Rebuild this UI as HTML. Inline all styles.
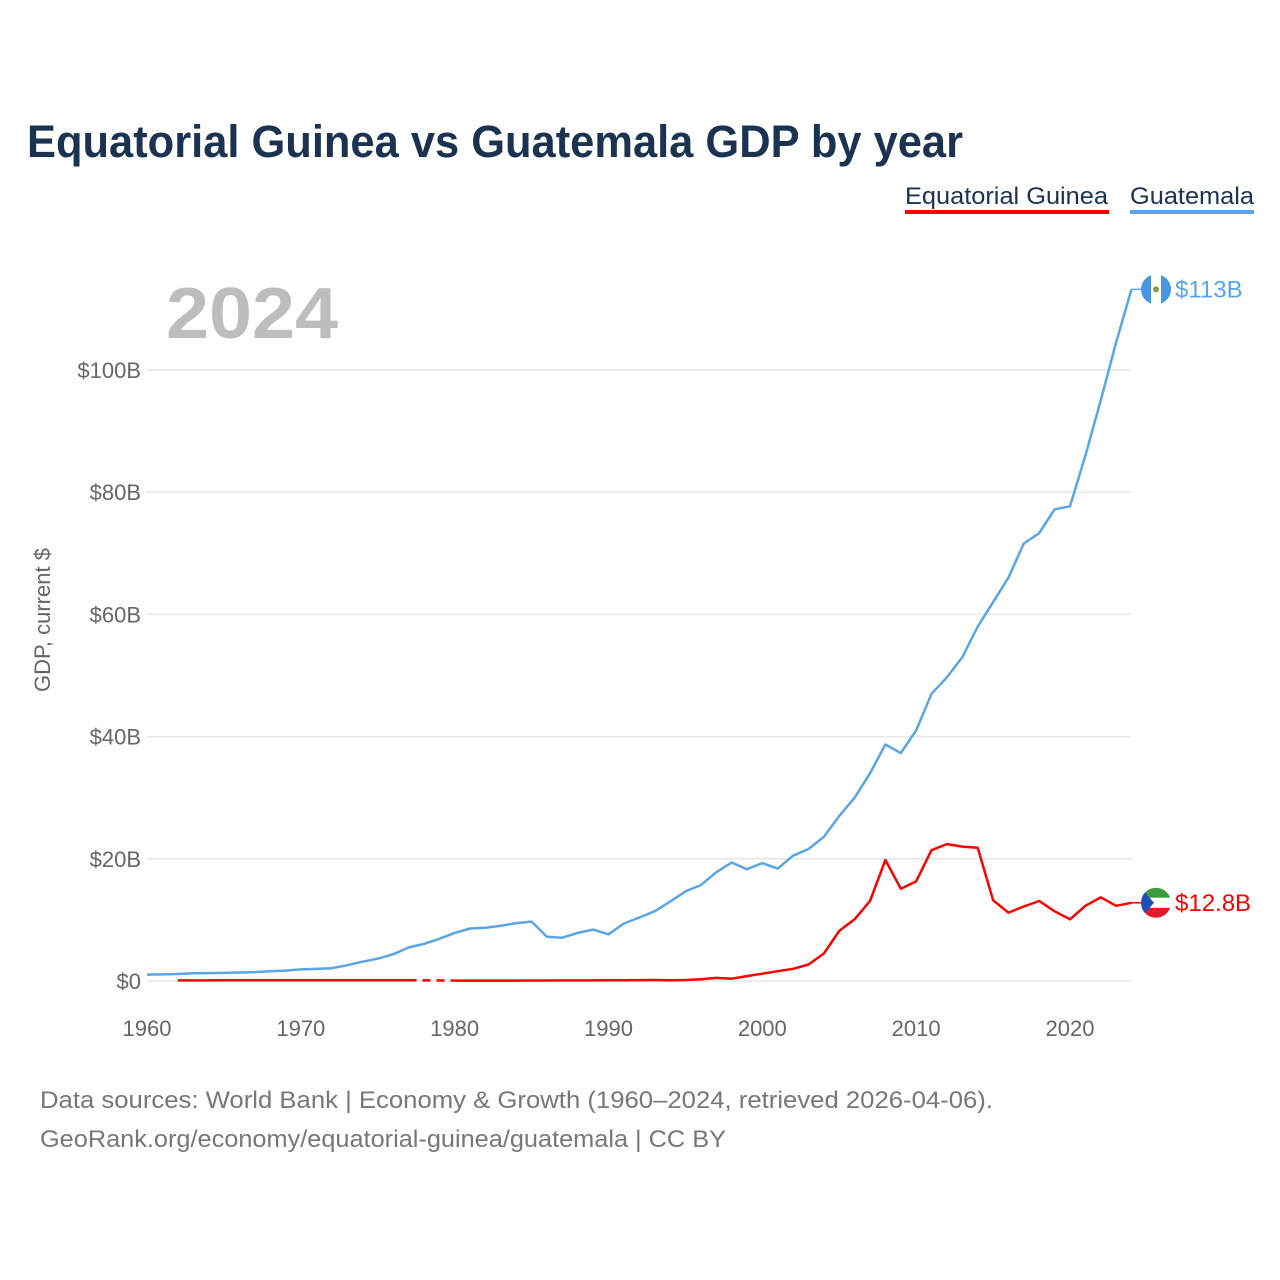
<!DOCTYPE html>
<html><head><meta charset="utf-8"><style>
body{margin:0;background:#fff;font-family:"Liberation Sans",sans-serif}
svg{display:block}
</style></head><body>
<svg width="1280" height="1280" xmlns="http://www.w3.org/2000/svg" id="chart">
<text x="27" y="157" font-size="45" font-weight="bold" fill="#1b3250" textLength="936" lengthAdjust="spacingAndGlyphs">Equatorial Guinea vs Guatemala GDP by year</text>
<g><text x="905" y="204" font-size="24" fill="#1b3250" textLength="203" lengthAdjust="spacingAndGlyphs">Equatorial Guinea</text><rect x="905" y="210" width="204" height="4" fill="#ff0000"/></g>
<g><text x="1130" y="204" font-size="24" fill="#1b3250" textLength="124" lengthAdjust="spacingAndGlyphs">Guatemala</text><rect x="1130" y="210" width="124" height="4" fill="#5aa5e8"/></g>
<text x="166" y="338" font-size="72" font-weight="bold" fill="#bdbdbd" textLength="172" lengthAdjust="spacingAndGlyphs">2024</text>
<text transform="translate(50,620) rotate(-90)" text-anchor="middle" font-size="22" fill="#666">GDP, current $</text>
<g id="grid"></g><g id="lines"></g>
<text x="40" y="1108" font-size="24" fill="#777" textLength="953" lengthAdjust="spacingAndGlyphs">Data sources: World Bank | Economy &amp; Growth (1960–2024, retrieved 2026-04-06).</text>
<text x="40" y="1147" font-size="24" fill="#777" textLength="686" lengthAdjust="spacingAndGlyphs">GeoRank.org/economy/equatorial-guinea/guatemala | CC BY</text>
</svg>
<script>
const yTicks=[0,20,40,60,80,100];
const yTickLabels=["$0","$20B","$40B","$60B","$80B","$100B"];
const xTicks=[1960,1970,1980,1990,2000,2010,2020];
const years=[];for(let y=1960;y<=2024;y++)years.push(y);
const guatemala=[1.04,1.08,1.15,1.26,1.3,1.33,1.39,1.45,1.6,1.71,1.9,1.98,2.1,2.57,3.16,3.65,4.37,5.48,6.07,6.9,7.88,8.6,8.72,9.03,9.47,9.72,7.23,7.08,7.87,8.42,7.65,9.41,10.4,11.4,12.98,14.66,15.7,17.79,19.4,18.3,19.3,18.4,20.5,21.6,23.6,27.0,30.0,34.0,38.7,37.3,41.0,47.0,49.7,53.0,58.0,62.0,66.0,71.6,73.3,77.2,77.7,86.0,95.0,104.5,113.2];
const eqGuinea=[null,null,0.1,0.1,0.1,0.11,0.11,0.11,0.11,0.11,0.11,0.11,0.11,0.11,0.12,0.13,0.13,0.13,null,null,0.07,0.06,0.06,0.06,0.07,0.08,0.09,0.1,0.1,0.1,0.13,0.13,0.15,0.16,0.13,0.16,0.3,0.5,0.37,0.8,1.2,1.6,2.0,2.7,4.5,8.2,10.1,13.1,19.8,15.1,16.3,21.4,22.4,22.0,21.8,13.2,11.2,12.2,13.1,11.4,10.1,12.3,13.7,12.3,12.8];
const X=y=>147+(y-1960)*15.383;
const Y=v=>981-v*6.11;
const NS="http://www.w3.org/2000/svg";
const grid=document.getElementById('grid'),lines=document.getElementById('lines');
function mk(tag,attrs,parent){const e=document.createElementNS(NS,tag);for(const k in attrs)e.setAttribute(k,attrs[k]);parent.appendChild(e);return e;}
yTicks.forEach((t,i)=>{
 const l=mk('line',{x1:147,x2:1131,y1:Y(t),y2:Y(t),stroke:'#e6e6e6','stroke-width':1.5},grid);
 
 
 const tx=mk('text',{x:141,y:Y(t)+8,'text-anchor':'end','font-size':22,fill:'#666'},grid);
 tx.textContent=yTickLabels[i];
 
 
});
xTicks.forEach(t=>{
 const tx=mk('text',{x:X(t),y:1036,'text-anchor':'middle','font-size':22,fill:'#666'},grid);
 tx.textContent=t;
 
 
});
function path(vals,color,name){
 let d='',pen=false,last=null,gaps=[];
 vals.forEach((v,i)=>{
  if(v==null){pen=false;return;}
  if(!pen&&last!=null)gaps.push([last,[X(years[i]),Y(v)]]);
  d+=(pen?'L':'M')+X(years[i]).toFixed(1)+' '+Y(v).toFixed(1);
  pen=true;last=[X(years[i]),Y(v)];
 });
 const p=mk('path',{d:d,fill:'none',stroke:color,'stroke-width':2.5,'stroke-linejoin':'round'},lines);
 
 
 gaps.forEach(g=>{
  const q=mk('line',{x1:g[0][0],y1:g[0][1],x2:g[1][0],y2:g[1][1],stroke:color,'stroke-width':2.5,'stroke-dasharray':'8 6'},lines);
  
  
 });
}
path(guatemala,'#5aa5e8','guatemala-line');
path(eqGuinea,'#ff0000','equatorial-guinea-line');
function endLabel(v,color,name,lbl,flag){
 const y=Y(v);
 const l=mk('line',{x1:X(2024),x2:1142,y1:y,y2:y,stroke:color,'stroke-width':1.5},lines);
 
 
 const g=mk('g',{},lines);
 
 
 g.innerHTML=flag(y);
 const t=mk('text',{x:1175,y:y+8,'font-size':24,fill:color},lines);
 t.textContent=lbl;
 
 
}
const gv=guatemala[guatemala.length-1],ev=eqGuinea[eqGuinea.length-1];
endLabel(gv,'#5aa5e8','guatemala','$'+Math.round(gv)+'B',y=>`<clipPath id="c1"><circle cx="1156" cy="${y}" r="15"/></clipPath><g clip-path="url(#c1)"><rect x="1141" y="${y-15}" width="30" height="30" fill="#fff"/><rect x="1141" y="${y-15}" width="10" height="30" fill="#4997e0"/><rect x="1161" y="${y-15}" width="10" height="30" fill="#4997e0"/><circle cx="1156" cy="${y}" r="3" fill="#8a9a4a"/></g>`);
endLabel(ev,'#ff0000','equatorial-guinea','$'+ev.toFixed(1)+'B',y=>`<clipPath id="c2"><circle cx="1156" cy="${y}" r="15"/></clipPath><g clip-path="url(#c2)"><rect x="1141" y="${y-15}" width="30" height="10" fill="#3e9a3e"/><rect x="1141" y="${y-5}" width="30" height="10" fill="#fff"/><rect x="1141" y="${y+5}" width="30" height="10" fill="#e21b2c"/><polygon points="1141,${y-15} 1154,${y} 1141,${y+15}" fill="#1f4fb5"/></g>`);
</script>
</body></html>
